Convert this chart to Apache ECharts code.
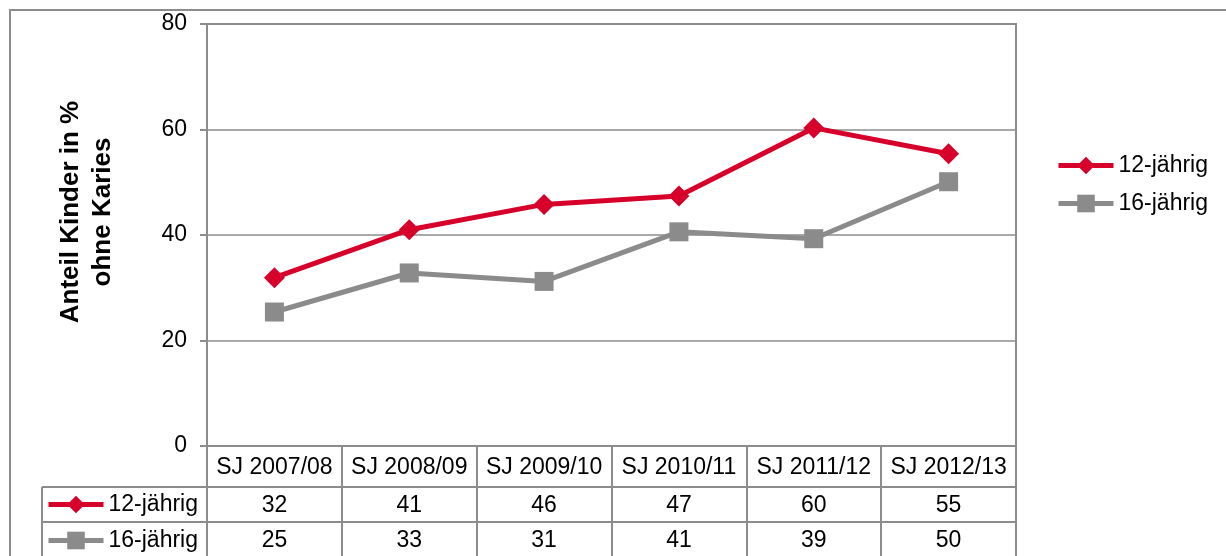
<!DOCTYPE html>
<html>
<head>
<meta charset="utf-8">
<script src="https://cdn.jsdelivr.net/npm/echarts@6/dist/echarts.min.js"></script>
<style>
html,body{margin:0;padding:0;background:#fff;}
#c{width:1226px;height:556px;}
</style>
</head>
<body>
<div id="c"></div>
<script>
const categories = ['SJ 2007/08','SJ 2008/09','SJ 2009/10','SJ 2010/11','SJ 2011/12','SJ 2012/13'];
const seriesNames = ['12-jährig','16-jährig'];
const values12 = [31.9, 41.0, 45.8, 47.4, 60.3, 55.4];
const values16 = [25.4, 32.8, 31.2, 40.6, 39.3, 50.1];
const yTicks = { min: 0, max: 80, interval: 20 };
const yTitle = 'Anteil Kinder in %\nohne Karies';

const RED = '#d6002b';
const GRAY = '#8b8b8b';
const LINE = '#8c8c8c';
const FONT = '"Liberation Sans", Arial, sans-serif';

const chart = echarts.init(document.getElementById('c'), null, {renderer:'canvas'});

const rowAxis = (vals, offset) => ({
  type: 'category',
  gridIndex: 0,
  position: 'bottom',
  offset: offset,
  data: vals.map(v => String(Math.round(v))),
  axisLine: { show: true, lineStyle: { color: LINE, width: 2 } },
  axisTick: { show: false },
  splitLine: { show: false },
  axisLabel: { interval: 0, fontSize: 23, fontFamily: FONT, color: '#000', margin: 7, lineHeight: 23 }
});

const makeLegend = (left, top, gap) => ({
  orient: 'vertical',
  left: left,
  top: top,
  width: 200,
  padding: 0,
  itemWidth: 55,
  itemHeight: 22,
  itemGap: gap,
  lineStyle: { width: 5 },
  textStyle: { fontSize: 23, fontFamily: FONT, color: '#000', lineHeight: 23 },
  data: seriesNames.slice(),
  selectedMode: false
});

chart.setOption({
  animation: false,
  backgroundColor: '#fff',
  grid: {
    left: 207, right: 210, top: 24, bottom: 110,
    show: true, borderColor: LINE, borderWidth: 2, backgroundColor: 'transparent'
  },
  legend: [
    makeLegend(1056, 154, 15),
    makeLegend(46, 493, 13)
  ],
  xAxis: [
    {
      type: 'category',
      data: categories,
      boundaryGap: true,
      axisLine: { show: true, lineStyle: { color: LINE, width: 2 } },
      axisTick: { show: true, interval: 0, length: 110, lineStyle: { color: LINE, width: 2 } },
      splitLine: { show: false },
      axisLabel: { interval: 0, fontSize: 23, fontFamily: FONT, color: '#000', margin: 10, lineHeight: 23 }
    },
    rowAxis(values12, 41),
    rowAxis(values16, 76)
  ],
  yAxis: {
    type: 'value',
    min: yTicks.min, max: yTicks.max, interval: yTicks.interval,
    axisLine: { show: true, lineStyle: { color: LINE, width: 2 } },
    axisTick: { show: true, length: 7, lineStyle: { color: LINE, width: 2 } },
    splitLine: { show: true, lineStyle: { color: LINE, width: 1.5 } },
    axisLabel: { fontSize: 23, fontFamily: FONT, color: '#000', margin: 20 }
  },
  series: [
    {
      name: seriesNames[0], type: 'line', xAxisIndex: 0, data: values12,
      symbol: 'diamond', symbolSize: 21, showAllSymbol: true,
      lineStyle: { color: RED, width: 5 }, itemStyle: { color: RED },
      z: 3
    },
    {
      name: seriesNames[1], type: 'line', xAxisIndex: 0, data: values16,
      symbol: 'rect', symbolSize: 19, showAllSymbol: true,
      lineStyle: { color: GRAY, width: 5 }, itemStyle: { color: GRAY },
      z: 2
    }
  ],
  graphic: [
    { type: 'rect', shape: { x: 10, y: 10, width: 1240, height: 580 }, style: { fill: 'none', stroke: LINE, lineWidth: 2 }, silent: true },
    { type: 'line', shape: { x1: 42, y1: 487, x2: 207, y2: 487 }, style: { stroke: LINE, lineWidth: 2 } },
    { type: 'line', shape: { x1: 42, y1: 522, x2: 207, y2: 522 }, style: { stroke: LINE, lineWidth: 2 } },
    { type: 'line', shape: { x1: 42, y1: 487, x2: 42, y2: 560 }, style: { stroke: LINE, lineWidth: 2 } },
    {
      type: 'text', x: 87, y: 212, rotation: Math.PI / 2,
      style: {
        text: yTitle, fontSize: 26, fontWeight: 'bold', fontFamily: FONT, fill: '#000',
        align: 'center', verticalAlign: 'middle', lineHeight: 32
      }
    }
  ]
});
</script>
</body>
</html>
